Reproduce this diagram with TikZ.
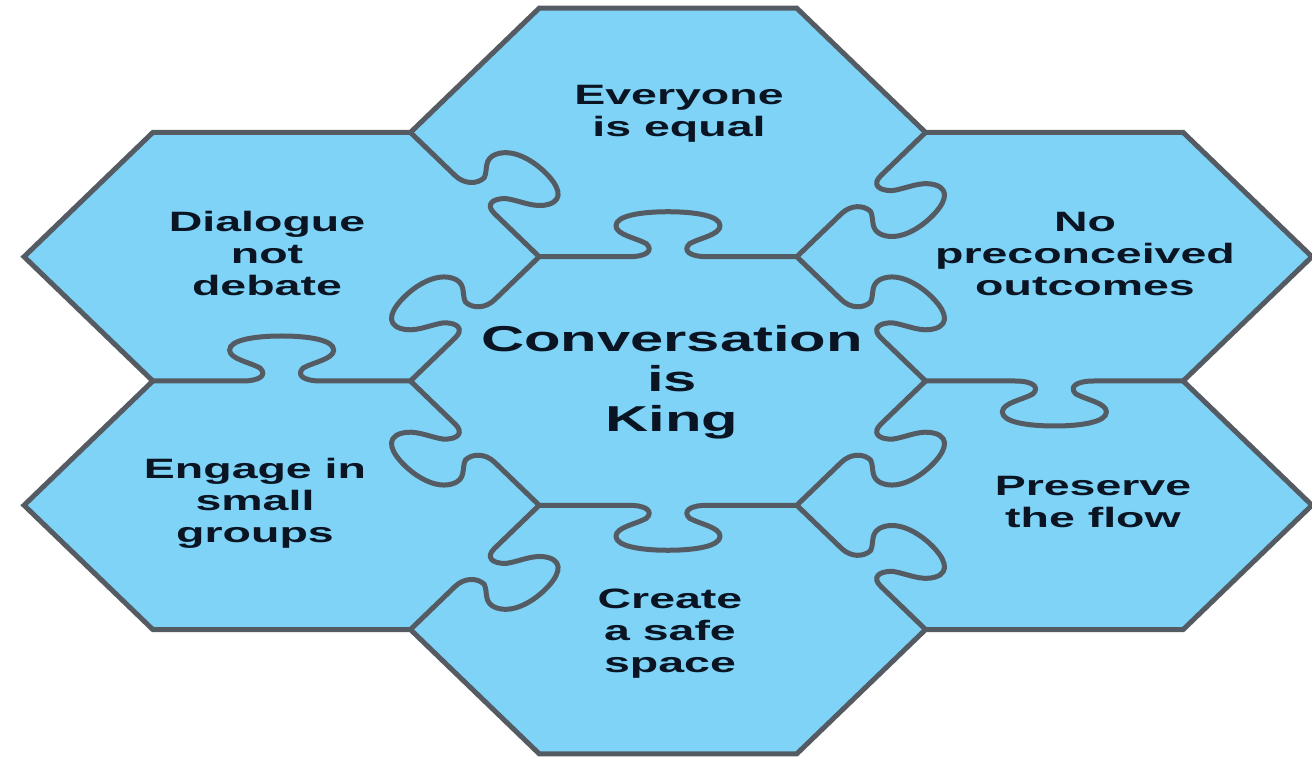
\documentclass[tikz,border=0pt]{standalone}
\usepackage{fontspec}
\setmainfont{Liberation Sans}
\usepackage{graphicx}
\definecolor{hexfill}{RGB}{126,211,247}
\definecolor{hexline}{RGB}{85,91,98}
\definecolor{hextextc}{RGB}{10,20,34}
\newcommand{\hexlabel}[1]{\scalebox{1.66}[1]{\begin{tabular}{@{}c@{}}#1\end{tabular}}}
\newcommand{\knob}[3]{%
  \begin{scope}[shift={(#1,#2)}, rotate=#3]
    \draw[puzzleline] (-71.75,0) -- (-22,0)
      .. controls (-12,0) and (-8,6) .. (-12,13)
      .. controls (-18,19) and (-29,22) .. (-29,31)
      .. controls (-29,41) and (-15,45) .. (0,45)
      .. controls (15,45) and (29,41) .. (29,31)
      .. controls (29,22) and (18,19) .. (12,13)
      .. controls (8,6) and (12,0) .. (22,0) -- (71.75,0);
  \end{scope}}
\begin{document}
\begin{tikzpicture}[x=1pt,y=1pt,
  puzzleline/.style={draw=hexline, line width=5pt, line join=round, line cap=round},
  outline/.style={draw=hexline, fill=hexfill, line width=5pt, line join=miter},
  lbl/.style={text=hextextc, font=\bfseries\fontsize{28}{32}\selectfont, inner sep=0pt},
  biglbl/.style={text=hextextc, font=\bfseries\fontsize{36}{40}\selectfont, inner sep=0pt}]
\useasboundingbox (0,0) rectangle (1312,758);
\def\R{143.5}
\def\H{124.27}
\begin{scope}[shift={(668,377)}, xscale=1.795]
  \path[outline] (-0.5*\R,3*\H) -- (0.5*\R,3*\H) -- (\R,2*\H) -- (2*\R,2*\H)
    -- (2.5*\R,\H) -- (2*\R,0) -- (2.5*\R,-\H) -- (2*\R,-2*\H) -- (\R,-2*\H)
    -- (0.5*\R,-3*\H) -- (-0.5*\R,-3*\H) -- (-\R,-2*\H) -- (-2*\R,-2*\H)
    -- (-2.5*\R,-\H) -- (-2*\R,0) -- (-2.5*\R,\H) -- (-2*\R,2*\H) -- (-\R,2*\H) -- cycle;
  % edges of the central piece
  \knob{0}{\H}{0}
  \knob{-0.75*\R}{0.5*\H}{60}
  \knob{-0.75*\R}{-0.5*\H}{120}
  \knob{0}{-\H}{180}
  \knob{0.75*\R}{-0.5*\H}{240}
  \knob{0.75*\R}{0.5*\H}{-60}
  % edges between outer pieces
  \knob{-0.75*\R}{1.5*\H}{-60}
  \knob{0.75*\R}{1.5*\H}{-120}
  \knob{1.5*\R}{0}{180}
  \knob{0.75*\R}{-1.5*\H}{-60}
  \knob{-0.75*\R}{-1.5*\H}{240}
  \knob{-1.5*\R}{0}{0}
\end{scope}
\node[lbl] (top) at (679,644) {\hexlabel{Everyone\\is equal}};
\node[lbl] (dialogue) at (267,501) {\hexlabel{Dialogue\\not\\debate}};
\node[lbl] (nopre) at (1085,501) {\hexlabel{No\\preconceived\\outcomes}};
\node[biglbl] (king) at (672,374) {\hexlabel{Conversation\\is\\King}};
\node[lbl] (engage) at (255,254) {\hexlabel{Engage in\\small\\groups}};
\node[lbl] (preserve) at (1093,253) {\hexlabel{Preserve\\the flow}};
\node[lbl] (safe) at (670,124) {\hexlabel{Create\\a safe\\space}};
\end{tikzpicture}
\end{document}
